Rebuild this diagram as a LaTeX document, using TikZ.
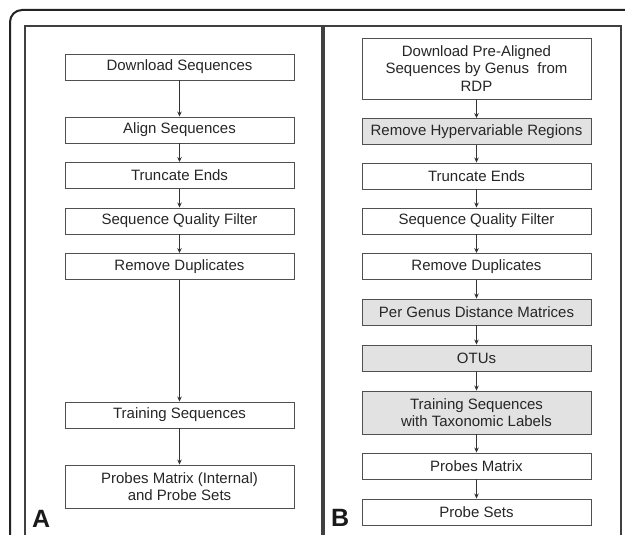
\documentclass[tikz,border=0pt]{standalone}
\usepackage{fontspec}
\setmainfont{Liberation Sans}
\usetikzlibrary{arrows.meta}
\definecolor{boxline}{HTML}{505050}
\definecolor{boxfill}{HTML}{E2E2E2}
\definecolor{frameline}{HTML}{232323}
\tikzset{
  stepbox/.style={draw=boxline,line width=0.9pt,minimum width=229pt,minimum height=26pt,
    inner sep=0pt,align=center,text=black!85,font=\fontsize{15}{17.3}\selectfont},
  shaded/.style={stepbox,fill=boxfill},
  flow/.style={-{Stealth[length=5pt,width=4.5pt]},line width=0.8pt,draw=black!80},
  panel/.style={draw=black!75,line width=1.3pt},
  tag/.style={font=\fontsize{25}{25}\selectfont\bfseries,inner sep=0pt,text=black!90,anchor=base west}
}
\begin{document}
\begin{tikzpicture}[x=1pt,y=-1pt]
  \useasboundingbox (0,0) rectangle (625,535);
  \clip (0,0) rectangle (625,535);
  % outer frame and the two panels
  \draw[frameline,line width=2pt,rounded corners=12pt] (10,10) rectangle (680,600);
  \draw[panel] (25,26) rectangle (322,560);
  \draw[panel] (324,26) rectangle (621,560);

  % panel A
  \node[stepbox] (a1) at (179.5,67) {Download Sequences};
  \node[stepbox] (a2) at (179.5,130) {Align Sequences};
  \node[stepbox] (a3) at (179.5,175.5) {Truncate Ends};
  \node[stepbox] (a4) at (179.5,221) {Sequence Quality Filter};
  \node[stepbox] (a5) at (179.5,266.5) {Remove Duplicates};
  \node[stepbox] (a6) at (179.5,415) {Training Sequences};
  \node[stepbox,minimum height=43pt] (a7) at (179.5,486.5) {Probes Matrix (Internal)\\and Probe Sets};
  \node[tag] (ta) at (32,527) {A};

  % panel B
  \node[stepbox,minimum height=61pt] (b1) at (476.5,68.5) {Download Pre-Aligned\\Sequences by Genus~ from\\RDP};
  \node[shaded] (b2) at (476.5,131.5) {Remove Hypervariable Regions};
  \node[stepbox] (b3) at (476.5,176) {Truncate Ends};
  \node[stepbox] (b4) at (476.5,221) {Sequence Quality Filter};
  \node[stepbox] (b5) at (476.5,266.5) {Remove Duplicates};
  \node[shaded] (b6) at (476.5,312) {Per Genus Distance Matrices};
  \node[shaded] (b7) at (476.5,358) {OTUs};
  \node[shaded,minimum height=43pt] (b8) at (476.5,412.5) {Training Sequences\\with Taxonomic Labels};
  \node[stepbox] (b9) at (476.5,466) {Probes Matrix};
  \node[stepbox] (b10) at (476.5,512) {Probe Sets};
  \node[tag] (tb) at (331,526) {B};

  % arrows
  \foreach \p/\q in {a1/a2,a2/a3,a3/a4,a4/a5,a5/a6,a6/a7,
                     b1/b2,b2/b3,b3/b4,b4/b5,b5/b6,b6/b7,b7/b8,b8/b9,b9/b10}
    \draw[flow] (\p) -- (\q);
\end{tikzpicture}
\end{document}
